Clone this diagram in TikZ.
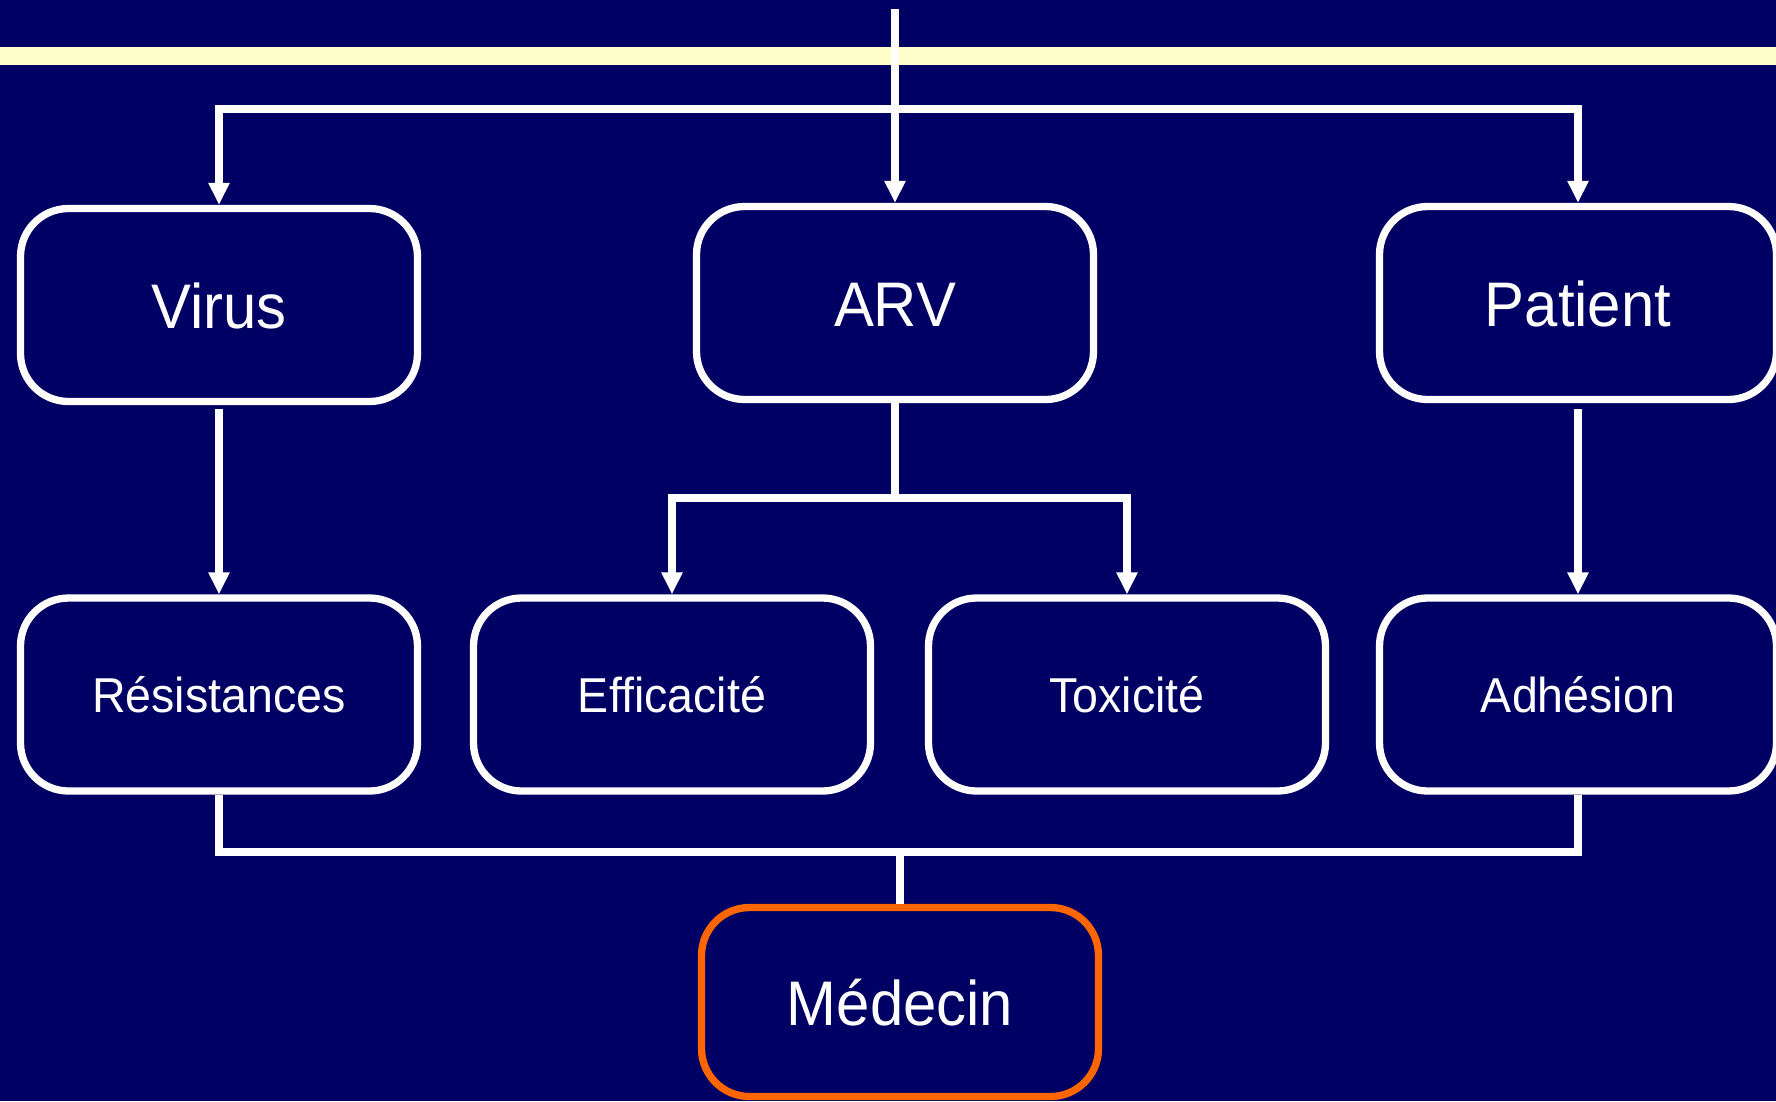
\documentclass[tikz,border=0pt]{standalone}
\usepackage{fontspec}
\setmainfont{Liberation Sans}[FakeStretch=0.95]
\usetikzlibrary{arrows.meta}
\definecolor{navy}{RGB}{0,0,100}
\definecolor{paleyellow}{RGB}{255,255,204}
\definecolor{hotorange}{RGB}{255,102,0}
\tikzset{
  box/.style={draw=white, line width=7.3pt, rounded corners=48pt, fill=navy,
    minimum width=397pt, minimum height=193pt, inner sep=0pt, text=white},
  bigtext/.style={font=\fontsize{63pt}{63pt}\selectfont, text height=46pt, text depth=0pt},
  smalltext/.style={font=\fontsize{49pt}{49pt}\selectfont, text height=36pt, text depth=0pt},
  link/.style={draw=white, line width=7.5pt},
  arr/.style={link, -{Triangle[length=22pt,width=20pt]}}
}
\begin{document}
\begin{tikzpicture}[x=1pt, y=-1pt]
  % page background and frame
  \path[use as bounding box, fill=navy] (0,0) rectangle (1776,1101);
  \clip (0,0) rectangle (1776,1101);
  % title rule
  \fill[paleyellow] (0,47.3) rectangle (1776,65.3);

  % first level
  \node[box, bigtext] (virus)   at (219,305)  {Virus};
  \node[box, bigtext] (arv)     at (895,303)  {ARV};
  \node[box, bigtext] (patient) at (1578,303) {Patient};

  % second level
  \node[box, smalltext] (res) at (219,694.5)  {Résistances};
  \node[box, smalltext] (eff) at (672,694.5)  {Efficacité};
  \node[box, smalltext] (tox) at (1127,694.5) {Toxicité};
  \node[box, smalltext] (adh) at (1578,694.5) {Adhésion};

  % decision maker
  \node[box, bigtext, draw=hotorange, minimum height=189pt] (med) at (900,1002) {Médecin};

  % incoming line and top distribution bus
  \coordinate (src)  at (895,9);
  \coordinate (hub1) at (895,109);
  \draw[arr] (src) -- (arv.north);
  \draw[arr] (hub1) -| (virus.north);
  \draw[arr] (hub1) -| (patient.north);

  % vertical links from first to second level
  \draw[arr, shorten <=4pt] (virus.south) -- (res.north);
  \draw[arr, shorten <=6pt] (patient.south) -- (adh.north);

  % ARV branches
  \coordinate (hub2) at (895,498);
  \draw[link] (arv.south) -- (hub2);
  \draw[arr] (hub2) -| (eff.north);
  \draw[arr] (hub2) -| (tox.north);

  % bottom bus to the physician
  \coordinate (bus) at (900,852);
  \draw[link] (res.south) |- (bus) -| (adh.south);
  \draw[link] (bus) -- (med.north);
\end{tikzpicture}
\end{document}
